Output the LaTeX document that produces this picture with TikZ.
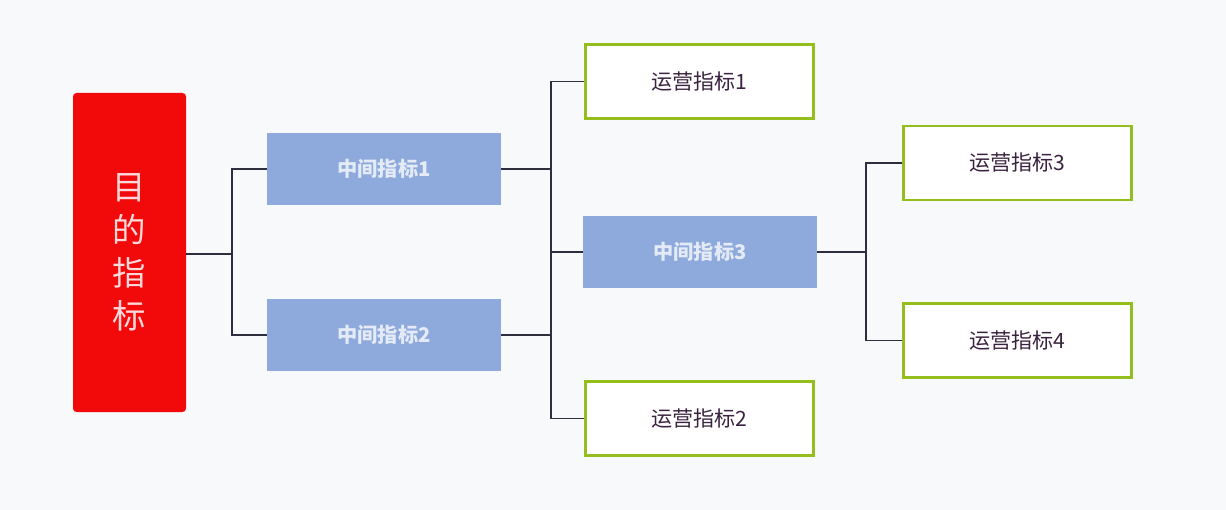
\documentclass[tikz,border=0pt]{standalone}
\usepackage{fontspec}
\newfontfamily\cjk{Noto Sans CJK SC}
\usetikzlibrary{positioning,calc}
\definecolor{goalred}{HTML}{F20A0A}
\definecolor{midblue}{HTML}{8EAADC}
\definecolor{midtext}{HTML}{E4EBF7}
\definecolor{opsgreen}{HTML}{93BE1E}
\definecolor{opstext}{HTML}{3A2340}
\definecolor{linkgray}{HTML}{2E2E3E}
\definecolor{paper}{HTML}{F8F9FB}

\begin{document}
\begin{tikzpicture}[
  goal/.style={fill=goalred, rounded corners=2pt, minimum width=2.26cm, minimum height=6.38cm,
    text=red!15, align=center, font=\cjk\fontsize{19}{24.5}\selectfont},
  mid/.style={fill=midblue, minimum width=4.68cm, minimum height=1.44cm,
    text=midtext, font=\cjk\bfseries\fontsize{11.5}{14}\selectfont},
  ops/.style={draw=opsgreen, line width=1.6pt, fill=white, minimum width=4.56cm, minimum height=1.48cm,
    text=opstext, font=\cjk\fontsize{12}{14}\selectfont},
  link/.style={draw=linkgray, line width=0.7pt}
]
  % canvas 1226 x 510 px at 0.02cm per px
  \fill[paper] (0,0) rectangle (24.52,-10.2);
  \useasboundingbox (0,0) rectangle (24.52,-10.2);

  % boxes
  \node[goal] (goal) at (2.59,-5.05) {目\\的\\指\\标};
  \node[mid] (mid1) at (7.68,-3.38) {中间指标1};
  \node[mid] (mid2) at (7.68,-6.70) {中间指标2};
  \node[mid] (mid3) at (14.00,-5.04) {中间指标3};
  \node[ops] (ops1) at (13.99,-1.63) {运营指标1};
  \node[ops] (ops2) at (13.99,-8.37) {运营指标2};
  \node[ops] (ops3) at (20.35,-3.26) {运营指标3};
  \node[ops] (ops4) at (20.35,-6.81) {运营指标4};

  % junctions
  \coordinate (j1) at (4.64,-5.08);
  \coordinate (j2) at (11.02,-5.04);
  \coordinate (j3) at (17.32,-5.04);

  % connectors
  \draw[link] (goal.east |- j1) -- (j1);
  \draw[link] (mid1.west) -| (j1) |- (mid2.west);
  \draw[link] (ops1.west) -| (j2) |- (ops2.west);
  \draw[link] (mid1.east) -- (mid1.east -| j2);
  \draw[link] (mid2.east) -- (mid2.east -| j2);
  \draw[link] (j2) -- (mid3.west);
  \draw[link] (mid3.east) -- (j3);
  \draw[link] (ops3.west) -| (j3) |- (ops4.west);
\end{tikzpicture}
\end{document}
